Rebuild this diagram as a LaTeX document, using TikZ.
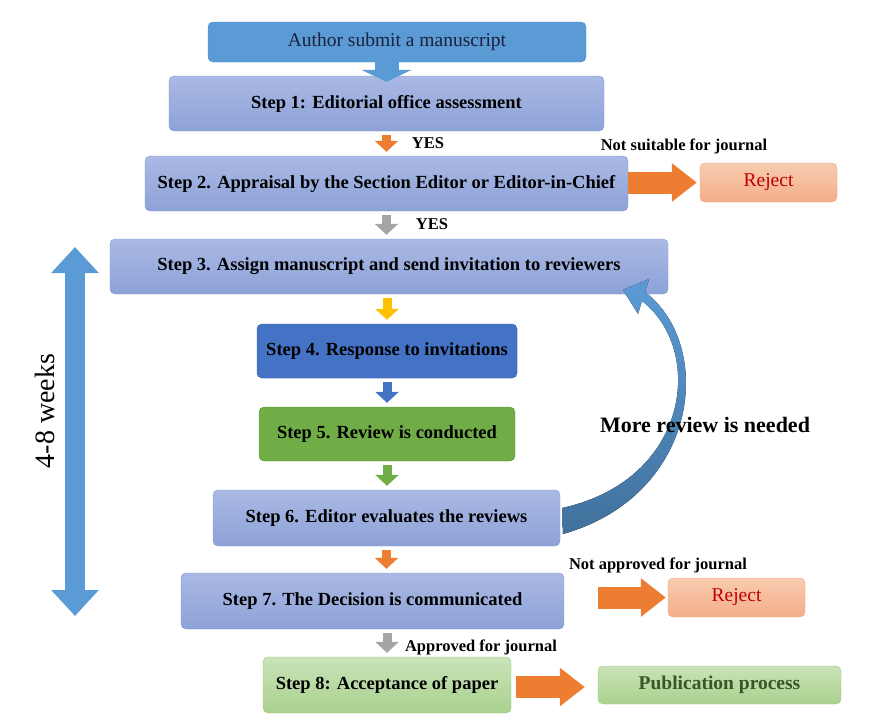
\documentclass[tikz,border=0pt]{standalone}
\usepackage{fontspec}
\setmainfont{Liberation Serif}
\usepackage{tikz}
\usetikzlibrary{arrows.meta, positioning, calc}
\definecolor{stepA}{HTML}{AAB9E4}
\definecolor{stepB}{HTML}{8DA2D8}
\definecolor{stepline}{HTML}{7F97D0}
\definecolor{authfill}{HTML}{5B9BD5}
\definecolor{authline}{HTML}{4A88C6}
\definecolor{rejA}{HTML}{F8CBB0}
\definecolor{rejB}{HTML}{F3AE8A}
\definecolor{rejline}{HTML}{EFA07C}
\definecolor{rejtext}{HTML}{C00000}
\definecolor{arrorange}{HTML}{ED7D31}
\definecolor{arrgray}{HTML}{A5A5A5}
\definecolor{arryellow}{HTML}{FFC000}
\definecolor{arrblue}{HTML}{4472C4}
\definecolor{arrgreen}{HTML}{70AD47}
\definecolor{greenA}{HTML}{C9E3B8}
\definecolor{greenB}{HTML}{A9D18E}
\definecolor{greenline}{HTML}{9CC87E}
\definecolor{pubtext}{HTML}{385723}
\definecolor{curveA}{HTML}{5B9BD5}
\definecolor{curveB}{HTML}{41719C}
\tikzstyle{stepbox} = [rectangle, rounded corners=5pt, inner sep=0pt, top color=stepA, bottom color=stepB,
    draw=stepline, text=black, font=\fontsize{18.5}{22}\selectfont\bfseries]
\tikzstyle{rejbox} = [rectangle, rounded corners=5pt, inner sep=0pt, top color=rejA, bottom color=rejB,
    draw=rejline, text=rejtext, minimum width=137pt, minimum height=39pt, font=\fontsize{19.5}{22}\selectfont]
\tikzstyle{greenbox} = [stepbox, top color=greenA, bottom color=greenB, draw=greenline]
\tikzstyle{lbl} = [inner sep=0pt, font=\fontsize{16.5}{18}\selectfont\bfseries]
\tikzstyle{downarr} = [line width=9pt, -{Triangle[width=23pt,length=11pt]}, shorten <=4pt, shorten >=4pt]
\tikzstyle{sidearr} = [line width=22pt, -{Triangle[width=37pt,length=25pt]}, draw=arrorange]

\begin{document}
\begin{tikzpicture}[x=1pt, y=-1pt]
  \useasboundingbox (0,0) rectangle (894,723);

  \node (author) [rectangle, rounded corners=5pt, inner sep=0pt, fill=authfill, draw=authline,
      minimum width=378pt, minimum height=40pt, text={rgb,255:red,30;green,32;blue,60},
      font=\fontsize{19.5}{22}\selectfont] at (397,42) {Author submit a manuscript};
  \node (s1) [stepbox, minimum width=435pt, minimum height=55pt] at (386.5,103.5) {Step 1: Editorial office assessment};
  \node (s2) [stepbox, minimum width=483pt, minimum height=55pt] at (386.5,183.5) {Step 2. Appraisal by the Section Editor or Editor-in-Chief};
  \node (rej1) [rejbox] at (768.5,182.5) {Reject};
  \node (s3) [stepbox, minimum width=558pt, minimum height=55pt] at (389,266.5) {Step 3. Assign manuscript and send invitation to reviewers};
  \node (s4) [stepbox, fill=arrblue, top color=arrblue, bottom color=arrblue, draw={rgb,255:red,58;green,96;blue,168},
      minimum width=260pt, minimum height=54pt] at (387,351) {Step 4. Response to invitations};
  \node (s5) [stepbox, top color=arrgreen, bottom color=arrgreen, draw={rgb,255:red,94;green,154;blue,58},
      minimum width=256pt, minimum height=54pt] at (387,434) {Step 5. Review is conducted};
  \node (s6) [stepbox, minimum width=347pt, minimum height=56pt] at (386.5,518) {Step 6. Editor evaluates the reviews};
  \node (s7) [stepbox, minimum width=383pt, minimum height=56pt] at (372.5,601) {Step 7. The Decision is communicated};
  \node (rej2) [rejbox] at (736.5,597.5) {Reject};
  \node (s8) [greenbox, minimum width=248pt, minimum height=56pt] at (387,685) {Step 8: Acceptance of paper};
  \node (pub) [greenbox, text=pubtext, minimum width=243pt, minimum height=38pt,
      font=\fontsize{19.5}{22}\selectfont\bfseries] at (719.5,685) {Publication process};

  \draw[line width=24pt, -{Triangle[width=50pt,length=12pt]}, draw=authfill, shorten <=-7pt, shorten >=-6pt]
      (s1.north |- author.south) -- (s1.north);
  \draw[downarr, draw=arrorange] (s1.south) -- (s2.north -| s1.south);
  \draw[downarr, draw=arrgray] (s2.south) -- (s3.north -| s2.south);
  \draw[downarr, draw=arryellow] (s3.south -| s4.north) -- (s4.north);
  \draw[downarr, draw=arrblue] (s4.south) -- (s5.north);
  \draw[downarr, draw=arrgreen] (s5.south) -- (s6.north -| s5.south);
  \draw[downarr, draw=arrorange] (s6.south) -- (s7.north -| s6.south);
  \draw[downarr, draw=arrgray] (s7.south -| s8.north) -- (s8.north);

  \draw[sidearr, shorten >=3pt] (s2.east |- rej1.west) -- (rej1.west);
  \draw[sidearr, shorten <=34pt, shorten >=2pt] (s7.east |- rej2.west) -- (rej2.west);
  \draw[sidearr, shorten <=5pt, shorten >=13pt] (s8.east |- 0,687) -- (pub.west |- 0,687);

  \node[lbl] at (428,143) {YES};
  \node[lbl] at (432,224) {YES};
  \node[lbl] at (684,146) {Not suitable for journal};
  \node[lbl] at (658,565) {Not approved for journal};
  \node[lbl] at (481,647) {Approved for journal};

  \coordinate (wtop) at (75,247);
  \coordinate (wbot) at (75,616);
  \draw[line width=20pt, draw=authfill, {Triangle[width=46pt,length=26pt]}-{Triangle[width=46pt,length=26pt]}] (wtop) -- (wbot);
  \node[rotate=90, inner sep=0pt, font=\fontsize{28}{30}\selectfont] at (45,411) {4-8 weeks};

  \fill[top color=curveA, bottom color=curveB] (645,292) .. controls (715,345) and (700,495) .. (563,534)
      -- (562,508) .. controls (690,480) and (705,350) .. (642,301) -- (638,314) -- (623,290) -- (649,279) -- cycle;
  \node[inner sep=0pt, font=\fontsize{22}{24}\selectfont\bfseries] at (705,425) {More review is needed};
\end{tikzpicture}
\end{document}
